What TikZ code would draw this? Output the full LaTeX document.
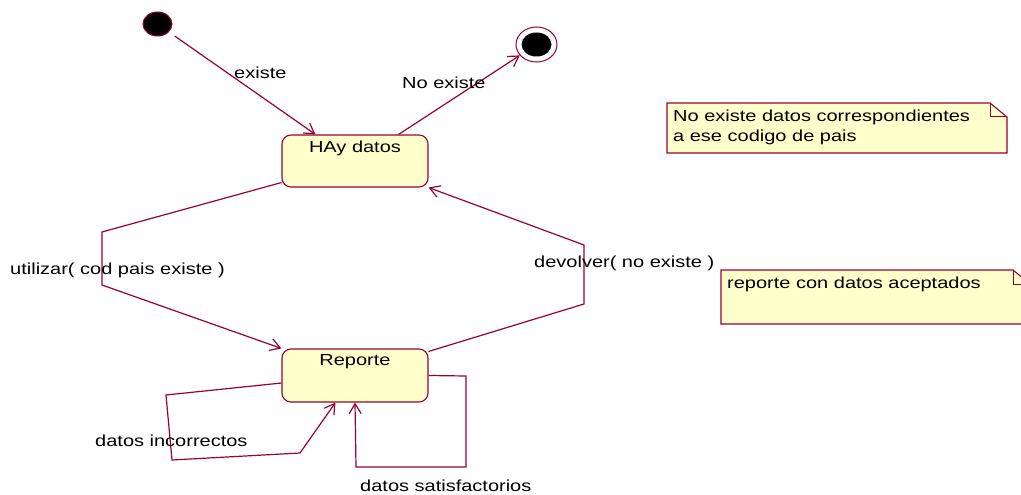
\documentclass[tikz,border=0pt]{standalone}
\usepackage{fontspec}
\setmainfont{Liberation Sans}[FakeStretch=1.25]
\usetikzlibrary{arrows.meta,shapes.geometric,calc}
\definecolor{umlline}{RGB}{153,0,51}
\definecolor{umlfill}{RGB}{255,255,204}
\begin{document}
\begin{tikzpicture}[x=1pt,y=-1pt,
  every node/.style={font=\fontsize{16}{20}\selectfont, inner sep=0pt, text=black},
  statebox/.style={draw=umlline, fill=umlfill, line width=1.1pt, rounded corners=9pt,
    minimum width=146pt, minimum height=52pt},
  tr/.style={draw=umlline, line width=1.2pt, -{Straight Barb[length=10pt,width=12pt]}},
  lbl/.style={anchor=base west},
  notebox/.style={draw=umlline, fill=umlfill, line width=1.1pt, line join=miter}]
\clip (0,0) rectangle (1021,495);
\useasboundingbox (0,0) rectangle (1021,495);

% initial and final states
\node[ellipse, draw=umlline, fill=black, line width=1pt,
  minimum width=29pt, minimum height=24pt] (init) at (157.5,24) {};
\node[ellipse, draw=umlline, fill=white, line width=1pt,
  minimum width=41pt, minimum height=35pt] (final) at (536.5,44.5) {};
\node[ellipse, fill=black, minimum width=30pt, minimum height=24pt] (finalcore) at (final.center) {};

% states
\node[statebox] (hay) at (355,161) {};
\node[anchor=base] (hayname) at ([yshift=-18pt]hay.north) {HAy datos};
\node[statebox, minimum height=53pt] (rep) at (355,375.5) {};
\node[anchor=base] (repname) at ([yshift=-17.5pt]rep.north) {Reporte};

% bend points
\coordinate (u1) at (102,232);
\coordinate (u2) at (102,285);
\coordinate (d1) at (584,304);
\coordinate (d2) at (584,245);
\coordinate (i1) at (166,395);
\coordinate (i2) at (172,460);
\coordinate (i3) at (300,453);
\coordinate (s1) at (466,376);
\coordinate (s2) at (466,467);
\coordinate (s3) at (356,467);

% transitions
\draw[tr, shorten <=7pt] (init) -- ([xshift=34pt]hay.north west);
\draw[tr] ([xshift=-30pt]hay.north east) -- (final);
\draw[tr] ([yshift=5pt]hay.south west) -- (u1) -- (u2) -- (rep.north west);
\draw[tr] ([yshift=-3pt]rep.north east) -- (d1) -- (d2) -- (hay.south east);
\draw[tr] ([yshift=-7.5pt]rep.west) -- (i1) -- (i2) -- (i3) -- ([xshift=54pt]rep.south west);
\draw[tr] (rep.east) -- (s1) -- (s2) -- (s3) -- (rep.south);

% transition labels
\node[lbl] (lexiste) at (234,78) {existe};
\node[lbl] (lnoexiste) at (402,88.5) {No existe};
\node[lbl] (lutilizar) at (10,274.5) {utilizar( cod pais existe )};
\node[lbl] (ldevolver) at (534,267) {devolver( no existe )};
\node[lbl] (lincorr) at (95,446) {datos incorrectos};
\node[lbl] (lsatisf) at (360,491) {datos satisfactorios};

% notes
\path[notebox] (667,103) -- (990,103) -- (1007,117) -- (1007,153) -- (667,153) -- cycle;
\draw[umlline, line width=1pt] (990,103) -- (990,117) -- (1007,117);
\node[lbl] (note1a) at (673,121.5) {No existe datos correspondientes};
\node[lbl] (note1b) at (673,141.5) {a ese codigo de pais};

\path[notebox] (721,270) -- (1013,270) -- (1030,284) -- (1030,324) -- (721,324) -- cycle;
\draw[umlline, line width=1pt] (1013,270) -- (1013,284) -- (1030,284);
\node[lbl] (note2) at (727,288) {reporte con datos aceptados};
\end{tikzpicture}
\end{document}
